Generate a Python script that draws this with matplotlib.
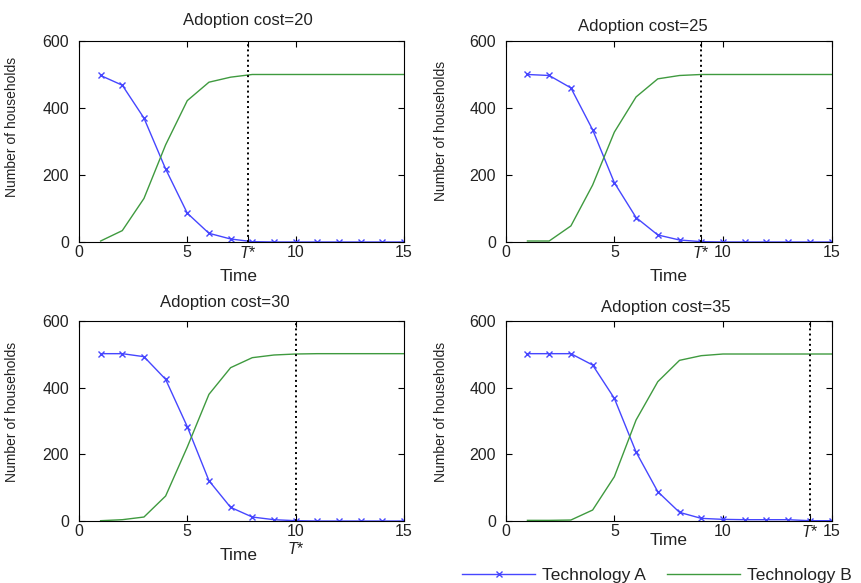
import numpy as np
import matplotlib
matplotlib.use("Agg")
import matplotlib.pyplot as plt
from matplotlib.lines import Line2D

plt.rcParams['font.family'] = ['Liberation Sans', 'DejaVu Sans']
plt.rcParams['mathtext.fontset'] = 'custom'
plt.rcParams['mathtext.it'] = 'Liberation Sans:italic'
plt.rcParams['mathtext.rm'] = 'Liberation Sans'

time = np.arange(1, 16)
costs = [20, 25, 30, 35]
t_star = [7.8, 9, 10, 14]

# Technology A (blue, markers) and Technology B (green) per adoption cost
tech_a_20 = [497, 468, 370, 218, 86, 26, 9, 1, 0, 0, 0, 0, 0, 0, 0]
tech_b_20 = [3, 34, 130, 290, 422, 477, 492, 500, 500, 500, 500, 500, 500, 500, 500]
tech_a_25 = [500, 497, 460, 335, 177, 73, 21, 6, 1, 0, 0, 0, 0, 0, 0]
tech_b_25 = [3, 3, 48, 170, 328, 433, 487, 497, 500, 500, 500, 500, 500, 500, 500]
tech_a_30 = [502, 502, 493, 425, 283, 121, 41, 12, 4, 1, 0, 0, 0, 0, 0]
tech_b_30 = [1, 4, 12, 75, 222, 380, 460, 490, 498, 501, 502, 502, 502, 502, 502]
tech_a_35 = [502, 502, 502, 468, 368, 207, 88, 26, 8, 5, 4, 4, 4, 1, 1]
tech_b_35 = [2, 2, 3, 33, 133, 303, 418, 482, 496, 501, 501, 501, 501, 501, 501]

tech_a = [tech_a_20, tech_a_25, tech_a_30, tech_a_35]
tech_b = [tech_b_20, tech_b_25, tech_b_30, tech_b_35]

blue = '#4646ff'
green = '#3f9a3f'
tlabel = r'$T$*'

fig = plt.figure(figsize=(8.62, 5.83), dpi=100)

# axes boxes in figure fraction
boxes = [[0.0916, 0.5849, 0.377, 0.3448],
         [0.5867, 0.5849, 0.378, 0.3448],
         [0.0916, 0.1063, 0.377, 0.3431],
         [0.5867, 0.1063, 0.378, 0.3431]]
# x ticks for each panel (T* gets its own tick)
xticks = [[0, 5, 7.8, 10, 15], [0, 5, 9, 10, 15], [0, 5, 10, 15], [0, 5, 10, 14, 15]]
xlabels = [['0', '5', tlabel, '10', '15'],
           ['0', '5', tlabel, '10', '15'],
           ['0', '5', '10\n' + tlabel, '15'],
           ['0', '5', '10', tlabel, '15']]
title_pos = [(0.52, 1.10), (0.42, 1.07), (0.45, 1.09), (0.49, 1.065)]
ylab_pos = [(-0.185, 0.57), (-0.177, 0.555), (-0.185, 0.545), (-0.177, 0.545)]
xlab_pos = [(0.49, -0.17), (0.5, -0.17), (0.49, -0.17), (0.5, -0.095)]

for i in range(4):
    ax = fig.add_axes(boxes[i])
    ax.plot(time, tech_a[i], color=blue, lw=1.0, marker='x', ms=5, mew=1.0)
    ax.plot(time, tech_b[i], color=green, lw=1.0)
    ax.axvline(t_star[i], color='black', ls=':', lw=1.4)
    ax.set_xlim(0, 15)
    ax.set_ylim(0, 600)
    ax.set_yticks([0, 200, 400, 600])
    ax.set_xticks(xticks[i])
    ax.set_xticklabels(xlabels[i])
    ax.tick_params(direction='in', top=True, right=True, length=4, width=0.8,
                   labelsize=11.5, colors='black')
    ax.tick_params(axis='x', pad=2, labelcolor='#222222')
    ax.tick_params(axis='y', pad=7, labelcolor='#222222')
    for s in ax.spines.values():
        s.set_linewidth(0.8)
    ax.text(title_pos[i][0], title_pos[i][1], 'Adoption cost=%d' % costs[i],
            transform=ax.transAxes, ha='center', va='center', fontsize=12, color='#222222')
    ax.set_ylabel('Number of households', fontsize=10, color='#222222')
    ax.yaxis.set_label_coords(ylab_pos[i][0], ylab_pos[i][1])
    ax.set_xlabel('Time', fontsize=12.5, color='#222222')
    ax.xaxis.set_label_coords(xlab_pos[i][0], xlab_pos[i][1])
    ax.xaxis.label.set_va('center')

handles = [Line2D([], [], color=blue, lw=1.0, marker='x', ms=5, mew=1.0),
           Line2D([], [], color=green, lw=1.0)]
fig.legend(handles, ['Technology A', 'Technology B'], ncol=2, frameon=False,
           loc='center right', bbox_to_anchor=(0.998, 0.0137), fontsize=12.5,
           handlelength=4.2, handletextpad=0.4, columnspacing=1.2, borderpad=0,
           labelcolor='#222222')

fig.savefig('out.png', dpi=100)
